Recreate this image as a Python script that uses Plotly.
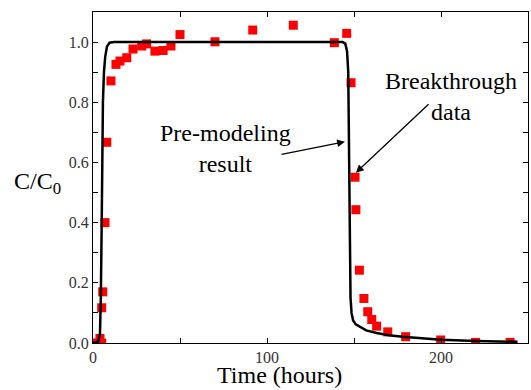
import plotly.graph_objects as go

# Breakthrough data (red squares)
data_time = [1.1, 4.0, 5.0, 5.0, 5.6, 6.9, 7.9, 10.3, 13.2, 15.5, 19.4, 23.0, 28.0, 30.8,
             35.6, 40.3, 44.8, 50.0, 70.1, 91.8, 115.1, 138.7, 145.8, 148.3, 150.6,
             151.1, 153.1, 155.7, 157.9, 160.2, 163.0, 169.4, 179.7, 199.8, 219.9, 239.7]
data_conc = [0.0, 0.015, 0.0, 0.117, 0.170, 0.40, 0.667, 0.871, 0.926, 0.937, 0.948, 0.977, 0.987, 0.994,
             0.970, 0.972, 0.987, 1.025, 1.001, 1.040, 1.056, 0.998, 1.029, 0.865, 0.551,
             0.443, 0.242, 0.148, 0.104, 0.078, 0.056, 0.037, 0.021, 0.010, 0.002, 0.002]

# Pre-modeling result (black curve)
model_time = [0, 3, 4, 4.5, 5, 5.3, 5.7, 6.3, 7, 8, 9.5, 12, 143.5, 145, 146, 146.7, 147.2,
              147.6, 148, 148.6, 149.5, 151, 153.4, 157, 163, 170, 178, 190, 200, 220, 244]
model_conc = [0, 0.005, 0.03, 0.15, 0.4, 0.6, 0.8, 0.9, 0.95, 0.985, 0.998, 1.0, 1.0, 0.995, 0.97,
              0.9, 0.6, 0.3, 0.15, 0.1, 0.075, 0.062, 0.054, 0.042, 0.033, 0.026, 0.021, 0.015,
              0.011, 0.007, 0.004]

x_range = [0, 250]
y_range = [0, 1.1]

fig = go.Figure()
fig.add_trace(go.Scatter(x=data_time, y=data_conc, mode="markers",
                         marker=dict(symbol="square", size=9, color="#ff0000"),
                         showlegend=False))
fig.add_trace(go.Scatter(x=model_time, y=model_conc, mode="lines",
                         line=dict(color="black", width=2.5), showlegend=False))

font_serif = "Liberation Serif, Times New Roman, Times, serif"
big = dict(family=font_serif, size=24, color="black")

axis_common = dict(showline=True, linecolor="black", linewidth=1.2, mirror="ticks",
                   ticks="inside", ticklen=5, tickcolor="black", showgrid=False, zeroline=False,
                   tickfont=dict(family=font_serif, size=16, color="#333"))

fig.update_xaxes(range=x_range, dtick=100, tick0=0,
                 minor=dict(dtick=50, ticks="inside", ticklen=5, tickcolor="black"),
                 **axis_common)
fig.update_yaxes(range=y_range, dtick=0.2, tick0=0, tickformat=".1f",
                 minor=dict(dtick=0.1, ticks="inside", ticklen=5, tickcolor="black"),
                 **axis_common)

# axis titles (y title is horizontal in the reference)
fig.add_annotation(x=107, y=-0.097, xref="x", yref="paper", text="Time (hours)",
                   showarrow=False, font=big, xanchor="center", yanchor="middle")
fig.add_annotation(x=-0.128, y=0.483, xref="paper", yref="paper", text="C/C<sub>0</sub>",
                   showarrow=False, font=big, xanchor="center", yanchor="middle")

# arrows
fig.add_annotation(x=144.8, y=0.669, ax=107.5, ay=0.626, axref="x", ayref="y",
                   text="", showarrow=True, arrowhead=2, arrowsize=1.2, arrowwidth=1.3,
                   arrowcolor="black")
fig.add_annotation(x=151.1, y=0.566, ax=193.7, ay=0.798, axref="x", ayref="y",
                   text="", showarrow=True, arrowhead=2, arrowsize=1.2, arrowwidth=1.3,
                   arrowcolor="black")
fig.add_annotation(x=76, y=0.646, text="Pre-modeling<br>result", showarrow=False,
                   font=big, align="center")
fig.add_annotation(x=205.5, y=0.818, text="Breakthrough<br>data", showarrow=False,
                   font=big, align="center")

fig.update_layout(width=531, height=390, margin=dict(l=93, r=3, t=12, b=47, autoexpand=False),
                  plot_bgcolor="white", paper_bgcolor="white")

fig.write_html("out.html", config={"displayModeBar": False},
               post_script="document.body.style.margin='0';")
